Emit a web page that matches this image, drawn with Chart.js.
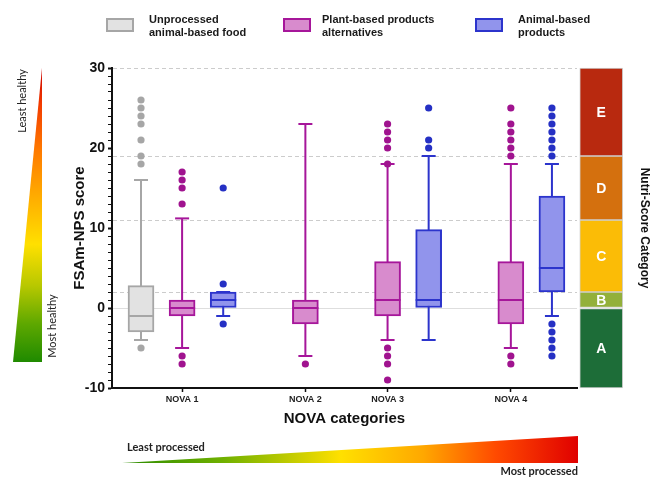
<!DOCTYPE html>
<html>
<head>
<meta charset="utf-8">
<title>FSAm-NPS score by NOVA category</title>
<script src="https://cdn.jsdelivr.net/npm/chart.js@4.4.1/dist/chart.umd.min.js"></script>
<style>
    html, body { margin: 0; padding: 0; background: #fff; }
    #wrap { position: relative; width: 654px; height: 477px; overflow: hidden; font-family: 'Liberation Sans', Arial, sans-serif; }
    #chart { position: absolute; left: 0; top: 0; }
    .lg-box { position: absolute; top: 18px; width: 28px; height: 14px; box-sizing: border-box; border: 2px solid; }
    .lg-text { position: absolute; top: 13px; font-size: 11px; font-weight: bold; line-height: 12.5px; color: #1a1a1a; white-space: nowrap; }
    .tri { position: absolute; }
    #tri-left { left: 13px; top: 68px; width: 29px; height: 294px; clip-path: polygon(100% 0, 100% 100%, 0 100%);
        background: linear-gradient(to bottom, #c80000 0%, #f23a00 12%, #ff7a00 28%, #ffb000 45%, #ffe000 60%, #b8c800 74%, #5ea800 87%, #1f8a00 100%); }
    #tri-bottom { left: 122px; top: 436px; width: 456px; height: 27px; clip-path: polygon(0 100%, 100% 0, 100% 100%);
        background: linear-gradient(to right, #2a8a00 0%, #6fb000 22%, #ffe000 48%, #ffa800 66%, #ff4a00 82%, #e00000 100%); }
    .side { position: absolute; font-family: Lato, 'Open Sans', sans-serif; font-size: 11px; color: #222; white-space: nowrap; }
    .vert { transform: translate(-50%, -50%) rotate(-90deg); }
</style>
</head>
<body>
<div id="wrap">
    <canvas id="chart" width="654" height="477"></canvas>

    <div class="lg-box" style="left:106px; background:#e2e2e2; border-color:#a6a6a6;"></div>
    <div class="lg-text" style="left:149px;">Unprocessed<br>animal-based food</div>
    <div class="lg-box" style="left:283px; background:#d88bcd; border-color:#a6169a;"></div>
    <div class="lg-text" style="left:322px;">Plant-based products<br>alternatives</div>
    <div class="lg-box" style="left:475px; background:#9194ec; border-color:#2c34cc;"></div>
    <div class="lg-text" style="left:518px;">Animal-based<br>products</div>

    <div class="tri" id="tri-left"></div>
    <div class="side vert" style="left:21px; top:101px;">Least healthy</div>
    <div class="side vert" style="left:51px; top:326px;">Most healthy</div>

    <div class="tri" id="tri-bottom"></div>
    <div class="side" style="left:127px; top:440px; font-weight:bold;">Least processed</div>
    <div class="side" style="right:76px; top:464px; font-weight:bold;">Most processed</div>
</div>

<script>
// Categories
const novaLabels = ['NOVA 1', 'NOVA 2', 'NOVA 3', 'NOVA 4'];

// Unprocessed animal-based food
const unprocGroups = ['NOVA 1'];
const unprocMin = [-4];
const unprocQ1 = [-3];
const unprocMedian = [-1];
const unprocQ3 = [2.8];
const unprocMax = [16];
const unprocOutliers = [[26, 25, 24, 23, 21, 19, 18, -5]];

// Plant-based products alternatives
const plantGroups = ['NOVA 1', 'NOVA 2', 'NOVA 3', 'NOVA 4'];
const plantMin = [-5, -6, -4, -5];
const plantQ1 = [-1, -2, -1, -2];
const plantMedian = [0, 0, 1, 1];
const plantQ3 = [1, 1, 5.8, 5.8];
const plantMax = [11.2, 23, 18, 18];
const plantOutliers = [
    [17, 16, 15, 13, -6, -7],
    [-7],
    [23, 22, 21, 20, 18, -5, -6, -7, -9],
    [25, 23, 22, 21, 20, 19, -6, -7]
];

// Animal-based products
const animalGroups = ['NOVA 1', 'NOVA 3', 'NOVA 4'];
const animalMin = [-1, -4, -1];
const animalQ1 = [0, 0, 2];
const animalMedian = [1, 1, 5];
const animalQ3 = [2, 9.8, 14];
const animalMax = [2, 19, 18];
const animalOutliers = [
    [15, 3, -2],
    [25, 21, 20],
    [25, 24, 23, 22, 21, 20, 19, -2, -3, -4, -5, -6]
];

// Nutri-Score bands on the FSAm-NPS scale
const nutriClasses = ['A', 'B', 'C', 'D', 'E'];
const nutriLower = [-10, 0, 2, 11, 19];
const nutriUpper = [0, 2, 11, 19, 30];
const nutriColors = ['#1d6d38', '#93b03a', '#fbbc06', '#d4700e', '#b8290f'];

// Y axis
const yMin = -10;
const yMax = 30;
const yMajorStep = 10;

// Layout: slot of each NOVA group on the x axis, offset of each series inside a group
const groupSlots = [1, 4, 6, 9];
const seriesOffset = { unproc: -1, plant: 0, animal: 1 };
const nutriSlot = 11.2;

function slotOf(group, offset) {
    return groupSlots[novaLabels.indexOf(group)] + offset;
}

// builds the datasets of one box plot series
function boxSeries(name, groups, offset, mins, q1s, meds, q3s, maxs, outs, fill, line, dot) {
    const xs = groups.map(g => slotOf(g, offset));
    const whiskers = [];
    const caps = [];
    const outPts = [];
    xs.forEach((x, i) => {
        whiskers.push({ x, y: mins[i] }, { x, y: maxs[i] }, { x, y: null });
        caps.push({ x, y: mins[i] }, { x, y: maxs[i] });
        outs[i].forEach(v => outPts.push({ x, y: v }));
    });
    return [
        {
            type: 'line', label: name + ' whiskers', data: whiskers, order: 3,
            borderColor: line, borderWidth: 2, pointRadius: 0, spanGaps: false
        },
        {
            type: 'scatter', label: name + ' caps', data: caps, order: 1,
            pointStyle: 'line', pointRadius: 7, borderColor: line, borderWidth: 2
        },
        {
            type: 'bar', label: name, data: xs.map((x, i) => ({ x, y: [q1s[i], q3s[i]] })), order: 2,
            backgroundColor: fill, borderColor: line, borderWidth: 2, borderSkipped: false,
            barThickness: 26, grouped: false
        },
        {
            type: 'scatter', label: name + ' median', data: xs.map((x, i) => ({ x, y: meds[i] })), order: 1,
            pointStyle: 'line', pointRadius: 13, borderColor: line, borderWidth: 2
        },
        {
            type: 'scatter', label: name + ' outliers', data: outPts, order: 0,
            pointRadius: 3.6, backgroundColor: dot, borderWidth: 0
        }
    ];
}

const nutriDataset = {
    type: 'bar', label: 'Nutri-Score',
    data: nutriClasses.map((c, i) => ({ x: nutriSlot, y: [nutriLower[i], nutriUpper[i]] })),
    backgroundColor: nutriColors, borderColor: '#cfcfcf', borderWidth: 1, borderSkipped: false,
    barThickness: 43, grouped: false, clip: false, order: 4
};

// writes the Nutri-Score letters in the middle of each band
const nutriLetters = {
    id: 'nutriLetters',
    afterDatasetsDraw(chart) {
        const meta = chart.getDatasetMeta(0);
        const ctx = chart.ctx;
        ctx.save();
        ctx.fillStyle = '#fff';
        ctx.font = 'bold 14px "Liberation Sans", Arial, sans-serif';
        ctx.textAlign = 'center';
        ctx.textBaseline = 'middle';
        meta.data.forEach((bar, i) => {
            const p = bar.getProps(['x', 'y', 'base'], true);
            ctx.fillText(nutriClasses[i], p.x, (p.y + p.base) / 2 + 1);
        });
        ctx.restore();
    }
};

const dashedLevels = [yMax].concat(nutriLower.filter(v => v > 0));
const yTickValues = [];
for (let v = yMin; v <= yMax; v++) yTickValues.push(v);

const axisFont = { family: '"Liberation Sans", Arial, sans-serif', weight: 'bold' };

new Chart(document.getElementById('chart'), {
    type: 'scatter',
    data: {
        datasets: [nutriDataset].concat(
            boxSeries('Unprocessed animal-based food', unprocGroups, seriesOffset.unproc,
                unprocMin, unprocQ1, unprocMedian, unprocQ3, unprocMax, unprocOutliers,
                '#e2e2e2', '#a6a6a6', '#a6a6a6'),
            boxSeries('Plant-based products alternatives', plantGroups, seriesOffset.plant,
                plantMin, plantQ1, plantMedian, plantQ3, plantMax, plantOutliers,
                '#d88bcd', '#a6169a', '#a0138f'),
            boxSeries('Animal-based products', animalGroups, seriesOffset.animal,
                animalMin, animalQ1, animalMedian, animalQ3, animalMax, animalOutliers,
                '#9194ec', '#2c34cc', '#2530c4')
        )
    },
    options: {
        responsive: false,
        animation: false,
        events: [],
        layout: { padding: { left: 67, top: 68, right: 0, bottom: 45 } },
        plugins: { legend: { display: false }, tooltip: { enabled: false } },
        scales: {
            x: {
                type: 'linear',
                min: -0.706,
                max: 10.61,
                offset: false,
                afterBuildTicks: scale => { scale.ticks = groupSlots.map(v => ({ value: v })); },
                afterFit: scale => { scale.height = 44; },
                ticks: {
                    autoSkip: false, maxRotation: 0, padding: 2, color: '#222',
                    font: { ...axisFont, size: 9 },
                    callback: v => novaLabels[groupSlots.indexOf(v)]
                },
                grid: { offset: false, drawOnChartArea: false, tickLength: 4, tickColor: '#111', tickWidth: 1.5 },
                border: { color: '#111', width: 2 },
                title: { display: true, text: 'NOVA categories', color: '#111', font: { ...axisFont, size: 15 }, padding: { top: 4, bottom: 4 } }
            },
            y: {
                type: 'linear',
                min: yMin,
                max: yMax,
                afterBuildTicks: scale => { scale.ticks = yTickValues.map(v => ({ value: v })); },
                afterFit: scale => { scale.width = 45; },
                ticks: {
                    autoSkip: false, padding: 3, color: '#111',
                    font: { ...axisFont, size: 14 },
                    callback: v => (v % yMajorStep === 0 ? String(v) : '')
                },
                grid: {
                    color: ctx => {
                        const v = ctx.tick.value;
                        if (v === 0) return '#dedede';
                        return dashedLevels.includes(v) ? '#cccccc' : 'rgba(0,0,0,0)';
                    },
                    lineWidth: 1,
                    tickLength: 4,
                    tickColor: '#111',
                    tickWidth: ctx => (ctx.tick.value % yMajorStep === 0 ? 2 : 1)
                },
                border: {
                    color: '#111', width: 2,
                    dash: ctx => (ctx.tick && ctx.tick.value !== 0 ? [4, 3] : [])
                },
                title: { display: true, text: 'FSAm-NPS score', color: '#111', font: { ...axisFont, size: 15 }, padding: { top: 4, bottom: 4 } }
            },
            y2: {
                type: 'linear',
                position: 'right',
                afterFit: scale => { scale.width = 77; },
                ticks: { display: false },
                grid: { display: false, drawTicks: false },
                border: { display: false },
                title: { display: true, text: 'Nutri-Score Category', color: '#111', font: { ...axisFont, size: 12 }, padding: { top: 2, bottom: 2 } }
            }
        }
    },
    plugins: [nutriLetters]
});
</script>
</body>
</html>
